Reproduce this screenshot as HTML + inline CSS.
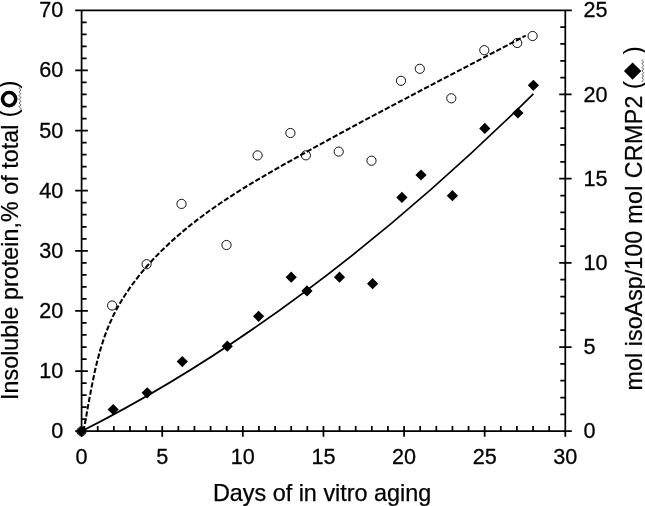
<!DOCTYPE html><html><head><meta charset="utf-8"><style>html,body{margin:0;padding:0;background:#fff;}svg{display:block;will-change:transform}</style></head><body>
<svg width="645" height="506" viewBox="0 0 645 506">
<rect width="645" height="506" fill="#fff"/>
<g stroke="#000" stroke-width="1.75" fill="none" stroke-linecap="butt">
<path d="M81.6 9.450000000000001V436.7M565.3 9.450000000000001V436.7M75.2 10.3H571.8M75.2 431.2H571.8"/>
<path d="M81.6 419.17H86.6M81.6 407.15H86.6M81.6 395.12H86.6M81.6 383.10H86.6M75.2 371.07H87.9M81.6 359.05H86.6M81.6 347.02H86.6M81.6 334.99H86.6M81.6 322.97H86.6M75.2 310.94H87.9M81.6 298.92H86.6M81.6 286.89H86.6M81.6 274.87H86.6M81.6 262.84H86.6M75.2 250.81H87.9M81.6 238.79H86.6M81.6 226.76H86.6M81.6 214.74H86.6M81.6 202.71H86.6M75.2 190.69H87.9M81.6 178.66H86.6M81.6 166.63H86.6M81.6 154.61H86.6M81.6 142.58H86.6M75.2 130.56H87.9M81.6 118.53H86.6M81.6 106.51H86.6M81.6 94.48H86.6M81.6 82.45H86.6M75.2 70.43H87.9M81.6 58.40H86.6M81.6 46.38H86.6M81.6 34.35H86.6M81.6 22.33H86.6M565.3 414.36H560.3M565.3 397.53H560.3M565.3 380.69H560.3M565.3 363.86H560.3M559.2 347.02H571.6M565.3 330.18H560.3M565.3 313.35H560.3M565.3 296.51H560.3M565.3 279.68H560.3M559.2 262.84H571.6M565.3 246.00H560.3M565.3 229.17H560.3M565.3 212.33H560.3M565.3 195.50H560.3M559.2 178.66H571.6M565.3 161.82H560.3M565.3 144.99H560.3M565.3 128.15H560.3M565.3 111.32H560.3M559.2 94.48H571.6M565.3 77.64H560.3M565.3 60.81H560.3M565.3 43.97H560.3M565.3 27.14H560.3M97.72 425.9V431.2M113.85 425.9V431.2M129.97 425.9V431.2M146.09 425.9V431.2M162.22 425.9V436.7M178.34 425.9V431.2M194.46 425.9V431.2M210.59 425.9V431.2M226.71 425.9V431.2M242.83 425.9V436.7M258.96 425.9V431.2M275.08 425.9V431.2M291.20 425.9V431.2M307.33 425.9V431.2M323.45 425.9V436.7M339.57 425.9V431.2M355.70 425.9V431.2M371.82 425.9V431.2M387.94 425.9V431.2M404.07 425.9V436.7M420.19 425.9V431.2M436.31 425.9V431.2M452.44 425.9V431.2M468.56 425.9V431.2M484.68 425.9V436.7M500.81 425.9V431.2M516.93 425.9V431.2M533.05 425.9V431.2M549.18 425.9V431.2"/>
</g>
<g font-family="Liberation Sans" font-size="22.3" fill="#000" stroke="#000" stroke-width="0.3">
<text transform="translate(63.2 438.2) scale(0.97 1)" text-anchor="end">0</text>
<text transform="translate(63.2 378.1) scale(0.97 1)" text-anchor="end">10</text>
<text transform="translate(63.2 317.9) scale(0.97 1)" text-anchor="end">20</text>
<text transform="translate(63.2 257.8) scale(0.97 1)" text-anchor="end">30</text>
<text transform="translate(63.2 197.7) scale(0.97 1)" text-anchor="end">40</text>
<text transform="translate(63.2 137.6) scale(0.97 1)" text-anchor="end">50</text>
<text transform="translate(63.2 77.4) scale(0.97 1)" text-anchor="end">60</text>
<text transform="translate(63.2 17.3) scale(0.97 1)" text-anchor="end">70</text>
<text transform="translate(583.4 438.2) scale(0.97 1)">0</text>
<text transform="translate(583.4 354.0) scale(0.97 1)">5</text>
<text transform="translate(583.4 269.8) scale(0.97 1)">10</text>
<text transform="translate(583.4 185.7) scale(0.97 1)">15</text>
<text transform="translate(583.4 101.5) scale(0.97 1)">20</text>
<text transform="translate(583.4 17.3) scale(0.97 1)">25</text>
<text transform="translate(81.6 463.5) scale(0.97 1)" text-anchor="middle">0</text>
<text transform="translate(162.2 463.5) scale(0.97 1)" text-anchor="middle">5</text>
<text transform="translate(242.8 463.5) scale(0.97 1)" text-anchor="middle">10</text>
<text transform="translate(323.4 463.5) scale(0.97 1)" text-anchor="middle">15</text>
<text transform="translate(404.1 463.5) scale(0.97 1)" text-anchor="middle">20</text>
<text transform="translate(484.7 463.5) scale(0.97 1)" text-anchor="middle">25</text>
<text transform="translate(565.3 463.5) scale(0.97 1)" text-anchor="middle">30</text>
</g>
<text x="212.9" y="500.5" font-family="Liberation Sans" font-size="23.2" stroke="#000" stroke-width="0.25" textLength="218.4" lengthAdjust="spacingAndGlyphs">Days of in vitro aging</text>
<text transform="translate(17.6 400.0) rotate(-90)" font-family="Liberation Sans" font-size="23.2" stroke="#000" stroke-width="0.25" textLength="275.5" lengthAdjust="spacing">Insoluble protein,% of total</text>
<text transform="translate(642.0 390.4) rotate(-90)" font-family="Liberation Sans" font-size="23.2" stroke="#000" stroke-width="0.25" textLength="159.6" lengthAdjust="spacing">mol isoAsp/100</text>
<text transform="translate(642.0 223.8) rotate(-90)" font-family="Liberation Sans" font-size="23.2" stroke="#000" stroke-width="0.25" textLength="128.3" lengthAdjust="spacing">mol CRMP2</text>
<g font-family="Liberation Sans" font-size="25" fill="#000">
<text transform="translate(17.2 117.4) rotate(-90)">(</text>
<text transform="translate(17.2 88.8) rotate(-90)">)</text>
</g>
<circle cx="9.1" cy="99.1" r="6.6" fill="none" stroke="#000" stroke-width="3.6"/>
<path d="M20.00 87.30Q18.20 88.22 20.00 89.15Q21.80 90.07 20.00 91.00Q18.20 91.92 20.00 92.85Q21.80 93.77 20.00 94.70Q18.20 95.62 20.00 96.55Q21.80 97.47 20.00 98.40Q18.20 99.32 20.00 100.25Q21.80 101.17 20.00 102.10Q18.20 103.02 20.00 103.95Q21.80 104.87 20.00 105.80Q18.20 106.72 20.00 107.65Q21.80 108.57 20.00 109.50" fill="none" stroke="#4a4a4a" stroke-width="0.95"/>
<g font-family="Liberation Sans" font-size="25" fill="#000">
<text transform="translate(641.8 89.2) rotate(-90)">(</text>
<text transform="translate(641.8 54.5) rotate(-90)">)</text>
</g>
<path d="M632.6 62.4L641.3 71.1L632.6 79.8L623.9 71.1Z" fill="#000"/>
<path d="M642.80 59.50Q641.30 60.38 642.80 61.25Q644.30 62.12 642.80 63.00Q641.30 63.88 642.80 64.75Q644.30 65.62 642.80 66.50Q641.30 67.38 642.80 68.25Q644.30 69.12 642.80 70.00Q641.30 70.88 642.80 71.75Q644.30 72.62 642.80 73.50Q641.30 74.38 642.80 75.25Q644.30 76.12 642.80 77.00Q641.30 77.88 642.80 78.75Q644.30 79.62 642.80 80.50Q641.30 81.38 642.80 82.25" fill="none" stroke="#4a4a4a" stroke-width="0.95"/>
<g fill="#000">
<path d="M81.5 425.70L87.10 431.3L81.5 436.90L75.90 431.3Z"/>
<path d="M113.2 403.90L118.80 409.5L113.2 415.10L107.60 409.5Z"/>
<path d="M147.2 387.20L152.80 392.8L147.2 398.40L141.60 392.8Z"/>
<path d="M182.3 356.00L187.90 361.6L182.3 367.20L176.70 361.6Z"/>
<path d="M227.3 340.60L232.90 346.2L227.3 351.80L221.70 346.2Z"/>
<path d="M258.6 310.70L264.20 316.3L258.6 321.90L253.00 316.3Z"/>
<path d="M291.2 271.60L296.80 277.2L291.2 282.80L285.60 277.2Z"/>
<path d="M307 285.30L312.60 290.9L307 296.50L301.40 290.9Z"/>
<path d="M339.5 271.60L345.10 277.2L339.5 282.80L333.90 277.2Z"/>
<path d="M372.6 278.10L378.20 283.7L372.6 289.30L367.00 283.7Z"/>
<path d="M401.9 191.80L407.50 197.4L401.9 203.00L396.30 197.4Z"/>
<path d="M421 169.40L426.60 175L421 180.60L415.40 175Z"/>
<path d="M452.4 190.10L458.00 195.7L452.4 201.30L446.80 195.7Z"/>
<path d="M484.8 122.80L490.40 128.4L484.8 134.00L479.20 128.4Z"/>
<path d="M517.9 107.40L523.50 113L517.9 118.60L512.30 113Z"/>
<path d="M533.4 79.70L539.00 85.3L533.4 90.90L527.80 85.3Z"/>
</g>
<g fill="none" stroke="#111" stroke-width="1.0">
<circle cx="81.5" cy="431.3" r="4.6"/>
<circle cx="112.1" cy="305.5" r="4.6"/>
<circle cx="146.6" cy="264.2" r="4.6"/>
<circle cx="181.5" cy="203.9" r="4.6"/>
<circle cx="226.5" cy="245" r="4.6"/>
<circle cx="257.6" cy="155.4" r="4.6"/>
<circle cx="290.4" cy="133" r="4.6"/>
<circle cx="305.9" cy="155.3" r="4.6"/>
<circle cx="338.7" cy="151.6" r="4.6"/>
<circle cx="371.5" cy="160.7" r="4.6"/>
<circle cx="401" cy="80.8" r="4.6"/>
<circle cx="419.8" cy="68.8" r="4.6"/>
<circle cx="451.3" cy="98.3" r="4.6"/>
<circle cx="484.3" cy="50.2" r="4.6"/>
<circle cx="517.2" cy="43" r="4.6"/>
<circle cx="532.6" cy="36" r="4.6"/>
</g>
<path d="M81.5 431.3Q307.45 317.2 533.4 93.8" fill="none" stroke="#000" stroke-width="1.7"/>
<path d="M83.4 431.2 L84.1 427.8 L84.7 424.4 L85.4 421.0 L86.0 417.6 L86.6 414.2 L87.2 410.7 L87.8 407.3 L88.5 403.8 L89.1 400.4 L89.7 396.9 L90.4 393.5 L91.0 390.0 L91.7 386.5 L92.4 383.1 L93.1 379.6 L93.8 376.2 L94.5 372.7 L95.3 369.3 L96.1 365.9 L96.9 362.5 L97.8 359.1 L98.7 355.7 L99.6 352.3 L100.6 348.9 L101.6 345.6 L102.7 342.2 L103.8 338.9 L104.9 335.7 L106.1 332.4 L107.4 329.1 L108.7 325.9 L110.0 322.7 L111.5 319.6 L112.9 316.4 L114.5 313.3 L116.1 310.3 L117.7 307.2 L119.5 304.2 L121.2 301.2 L123.0 298.2 L124.9 295.3 L126.8 292.4 L128.8 289.5 L130.7 286.7 L132.8 283.9 L134.9 281.1 L137.0 278.3 L139.1 275.6 L141.3 272.9 L143.6 270.2 L145.8 267.5 L148.1 264.9 L150.5 262.3 L152.8 259.7 L155.2 257.2 L157.7 254.7 L160.1 252.2 L162.6 249.7 L165.1 247.3 L167.7 244.9 L170.2 242.5 L172.8 240.1 L175.5 237.8 L178.1 235.4 L180.8 233.2 L183.5 230.9 L186.2 228.6 L188.9 226.4 L191.6 224.2 L194.4 222.1 L197.2 219.9 L200.0 217.8 L202.8 215.7 L205.6 213.6 L208.4 211.5 L211.3 209.5 L214.2 207.5 L217.0 205.5 L219.9 203.5 L222.8 201.6 L225.7 199.6 L228.6 197.7 L231.6 195.8 L234.5 193.9 L237.4 192.0 L240.4 190.2 L243.3 188.3 L246.3 186.5 L249.3 184.7 L252.3 182.9 L255.3 181.1 L258.2 179.3 L261.2 177.6 L264.3 175.8 L267.3 174.0 L270.3 172.3 L273.3 170.6 L276.3 168.8 L279.4 167.1 L282.4 165.4 L285.4 163.7 L288.5 162.0 L291.5 160.3 L294.5 158.6 L297.6 156.9 L300.6 155.2 L303.7 153.5 L306.7 151.8 L309.8 150.1 L312.8 148.4 L315.9 146.7 L319.0 145.0 L322.0 143.3 L325.1 141.7 L328.2 140.0 L331.2 138.3 L334.3 136.7 L337.4 135.0 L340.4 133.3 L343.5 131.7 L346.6 130.0 L349.6 128.3 L352.7 126.7 L355.8 125.0 L358.9 123.4 L362.0 121.7 L365.0 120.1 L368.1 118.4 L371.2 116.8 L374.3 115.1 L377.4 113.5 L380.5 111.9 L383.5 110.2 L386.6 108.6 L389.7 106.9 L392.8 105.3 L395.9 103.7 L399.0 102.0 L402.1 100.4 L405.2 98.8 L408.3 97.2 L411.4 95.5 L414.5 93.9 L417.6 92.3 L420.6 90.7 L423.7 89.0 L426.8 87.4 L429.9 85.8 L433.0 84.2 L436.1 82.5 L439.2 80.9 L442.3 79.3 L445.4 77.7 L448.5 76.1 L451.6 74.4 L454.7 72.8 L457.8 71.2 L460.9 69.6 L464.0 68.0 L467.1 66.4 L470.2 64.7 L473.3 63.1 L476.3 61.5 L479.4 59.9 L482.5 58.3 L485.6 56.7 L488.7 55.0 L491.8 53.4 L494.9 51.8 L498.0 50.2 L501.1 48.6 L504.2 46.9 L507.2 45.3 L510.3 43.7 L513.4 42.1 L516.5 40.5 L519.6 38.8 L522.6 37.2 L525.7 35.6" fill="none" stroke="#000" stroke-width="2.05" stroke-dasharray="5.3 2.1"/>
</svg></body></html>
